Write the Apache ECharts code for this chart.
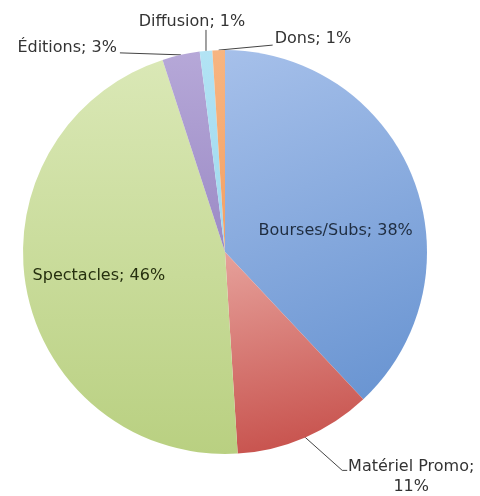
<!DOCTYPE html>
<html><head><meta charset="utf-8">
<script src="https://cdn.jsdelivr.net/npm/echarts@6/dist/echarts.min.js"></script>
<style>html,body{margin:0;padding:0;background:#fff}#c{width:480px;height:496px}</style>
</head><body><div id="c"></div>
<script>
const categories = ['Bourses/Subs', 'Matériel Promo', 'Spectacles', 'Éditions', 'Diffusion', 'Dons'];
const values = [38, 11, 46, 3, 1, 1];
const insideLabels = ['Bourses/Subs', 'Spectacles'];

const grad = (x2, y2, c1, c2) => ({type: 'linear', x: 0, y: 0, x2: x2, y2: y2,
  colorStops: [{offset: 0, color: c1}, {offset: 1, color: c2}]});
const sliceColors = [
  grad(0.7, 1, '#a6c0ea', '#6a95d2'),
  grad(0.3, 1, '#e6a19b', '#c8534e'),
  grad(0, 1, '#dae8b6', '#b9d081'),
  grad(0, 1, '#b6a8d8', '#9b8ac5'),
  grad(0, 1, '#b2e3f4', '#9fd8ee'),
  grad(0, 1, '#f7b581', '#f39f63')
];
const textColors = ['#1f2d40', '#333333', '#26300f', '#333333', '#333333', '#333333'];

// label placement offsets (relative to the library's rim point / inside anchor)
const outsideLayout = {
  1: {line: [[0, 0], [37, 33], [42, 33]], pos: [106, 39], align: 'center'},
  3: {line: [[0, 0], [-61, -2]], pos: [-64, -7], align: 'right'},
  4: {line: [[0, 0], [0, -21]], pos: [-14, -29], align: 'center'},
  5: {line: [[0, 0], [54, -5]], pos: [56, -11], align: 'left'}
};
const insideShift = {0: [14, 17], 2: [-24, 4.5]};

const data = categories.map((name, i) => {
  const inside = insideLabels.indexOf(name) >= 0;
  return {
    name: name,
    value: values[i],
    itemStyle: {color: sliceColors[i]},
    label: {
      position: inside ? 'inside' : 'outside',
      color: textColors[i],
      formatter: name === 'Matériel Promo' ? '{b};\n{d}%' : '{b}; {d}%'
    },
    labelLine: {show: !inside}
  };
});

const chart = echarts.init(document.getElementById('c'), null, {renderer: 'canvas'});
chart.setOption({
  animation: false,
  backgroundColor: '#ffffff',
  series: [{
    type: 'pie',
    center: [225, 252],
    radius: [0, 202],
    startAngle: 90,
    clockwise: true,
    avoidLabelOverlap: false,
    itemStyle: {borderWidth: 0},
    label: {
      fontFamily: 'DejaVu Sans',
      fontSize: 16,
      lineHeight: 20
    },
    labelLine: {lineStyle: {color: '#444444', width: 1}},
    emphasis: {disabled: true},
    labelLayout: function (p) {
      const i = p.dataIndex;
      if (insideShift[i]) return {dx: insideShift[i][0], dy: insideShift[i][1]};
      const o = outsideLayout[i];
      const r = p.labelLinePoints[0];
      return {
        x: r[0] + o.pos[0], y: r[1] + o.pos[1],
        align: o.align, verticalAlign: 'middle',
        labelLinePoints: o.line.map(q => [r[0] + q[0], r[1] + q[1]])
      };
    },
    data: data
  }]
});
</script></body></html>
